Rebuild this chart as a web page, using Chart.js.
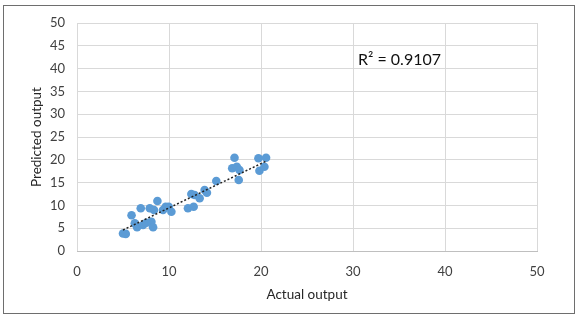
<!DOCTYPE html>
<html>
<head>
<meta charset="utf-8">
<script src="https://cdn.jsdelivr.net/npm/chart.js@4/dist/chart.umd.min.js"></script>
<style>
html,body{margin:0;padding:0;background:#fff;}
#wrap{width:578px;height:316px;position:relative;}
</style>
</head>
<body>
<div id="wrap"><canvas id="c" width="578" height="316"></canvas></div>
<script>
const actualOutput = [5.0, 5.3, 5.93, 6.28, 6.53, 6.93, 7.18, 7.55, 7.91, 8.09, 8.27, 8.37, 8.74, 9.35, 9.64, 9.97, 10.26, 12.06, 12.68, 12.43, 12.78, 13.33, 13.87, 14.12, 15.14, 17.12, 16.87, 17.37, 17.66, 17.58, 19.72, 19.83, 20.37, 20.55];
const predictedOutput = [3.85, 3.75, 7.83, 6.07, 5.2, 9.36, 5.7, 6.2, 9.36, 6.43, 5.2, 9.0, 10.96, 9.0, 9.71, 9.71, 8.62, 9.36, 9.71, 12.5, 12.28, 11.56, 13.38, 12.78, 15.35, 20.46, 18.14, 18.49, 17.76, 15.57, 20.33, 17.61, 18.49, 20.46];
const trendX = [5.0, 20.6];
const trendY = [4.6, 19.75];
const xTicks = [0, 10, 20, 30, 40, 50];
const yTicks = [0, 5, 10, 15, 20, 25, 30, 35, 40, 45, 50];
const r2Label = 'R² = 0.9107';
const xTitle = 'Actual output';
const yTitle = 'Predicted output';

const points = actualOutput.map((x, i) => ({x: x, y: predictedOutput[i]}));
const trend = trendX.map((x, i) => ({x: x, y: trendY[i]}));

const frame = {
  id: 'frame',
  beforeDraw(chart) {
    const ctx = chart.ctx;
    ctx.save();
    ctx.fillStyle = '#fff';
    ctx.fillRect(0, 0, chart.width, chart.height);
    ctx.strokeStyle = '#6e6e6e';
    ctx.lineWidth = 1;
    ctx.strokeRect(3.5, 5.5, 571, 308);
    ctx.restore();
  },
  afterDraw(chart) {
    const ctx = chart.ctx;
    ctx.save();
    ctx.fillStyle = '#111';
    ctx.font = '16px Lato';
    ctx.textBaseline = 'middle';
    ctx.textAlign = 'left';
    ctx.fillText(r2Label, 358, 60);
    ctx.restore();
  }
};

const tickFont = {family: 'Lato', size: 13};
const titleFont = {family: 'Lato', size: 13.5};
new Chart(document.getElementById('c'), {
  type: 'scatter',
  data: {
    datasets: [
      {
        label: 'trend',
        type: 'line',
        data: trend,
        showLine: true,
        borderColor: '#222',
        borderWidth: 1.5,
        borderDash: [2, 2],
        pointRadius: 0,
        fill: false,
        order: 0
      },
      {
        label: 'data',
        data: points,
        backgroundColor: '#5B9BD5',
        borderColor: '#5B9BD5',
        pointRadius: 4.3,
        pointBorderWidth: 0,
        order: 1
      }
    ]
  },
  options: {
    responsive: false,
    animation: false,
    events: [],
    layout: {padding: {left: 4, right: 41, top: 23, bottom: 4}},
    plugins: {legend: {display: false}, tooltip: {enabled: false}},
    scales: {
      x: {
        type: 'linear',
        min: 0, max: 50,
        afterBuildTicks(s) { s.ticks = xTicks.map(v => ({value: v})); },
        afterFit(s) { s.height = 61; },
        grid: {color: '#d9d9d9', drawTicks: false},
        border: {color: '#bfbfbf'},
        ticks: {color: '#404040', font: tickFont, padding: 13, maxRotation: 0},
        title: {display: true, text: xTitle, color: '#262626', font: titleFont, padding: {top: 0, bottom: 9}}
      },
      y: {
        type: 'linear',
        min: 0, max: 50,
        afterBuildTicks(s) { s.ticks = yTicks.map(v => ({value: v})); },
        afterFit(s) { s.width = 73; },
        grid: {color: '#d9d9d9', drawTicks: false},
        border: {display: false},
        ticks: {color: '#404040', font: tickFont, padding: 12},
        title: {display: true, text: yTitle, color: '#262626', font: titleFont, padding: {top: 25, bottom: 0}}
      }
    }
  },
  plugins: [frame]
});
</script>
</body>
</html>
